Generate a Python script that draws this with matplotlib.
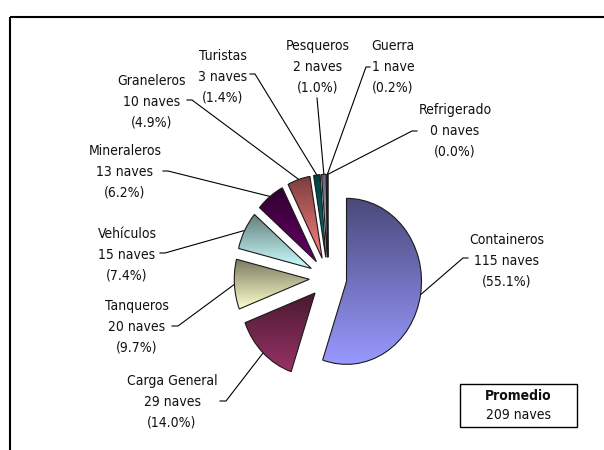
import numpy as np
import matplotlib
matplotlib.use('Agg')
import matplotlib.pyplot as plt
from matplotlib.colors import to_rgb
from matplotlib.patches import Rectangle

# ---- data ----
categories = ['Containeros', 'Carga General', 'Tanqueros', 'Vehículos', 'Mineraleros',
              'Graneleros', 'Turistas', 'Pesqueros', 'Guerra', 'Refrigerado']
naves = [115, 29, 20, 15, 13, 10, 3, 2, 1, 0]
percent = [55.1, 14.0, 9.7, 7.4, 6.2, 4.9, 1.4, 1.0, 0.2, 0.0]
promedio_naves = 209

base_colors = ['#9999FF', '#993366', '#FFFFCC', '#CCFFFF', '#660066',
               '#FF8080', '#008080', '#CCCCFF', '#000080', '#FF00FF']

# ---- layout (pixel positions of label texts and leader ticks) ----
text_pos = [(507, 261), (172, 402), (137, 327), (127, 255), (125, 172),
            (152, 102), (223, 77), (318, 67), (393, 67), (455, 131)]
tick_pos = [(468, 463, 258), (220, 226, 401), (172, 178, 326), (160, 165, 253),
            (163, 168, 171), (187, 192, 100), (250, 255, 74), (317, 317, 98),
            (370, 366, 67), (417, 412, 131)]

FONT = dict(family='DejaVu Sans', fontstretch='condensed')

W, H = 604, 450
fig = plt.figure(figsize=(W / 100, H / 100), dpi=100)
fig.patch.set_facecolor('white')

ov = fig.add_axes([0, 0, 1, 1])
ov.set_xlim(0, W)
ov.set_ylim(H, 0)
ov.axis('off')

# outer chart border (top + left visible)
ov.add_patch(Rectangle((10, 17), 800, 600, fill=False, edgecolor='black', lw=1.5, zorder=1))

# pie axes (elliptical pie)
cx, cy, rx, ry = 328, 278, 75, 83
lim = 1.5
ax = fig.add_axes([(cx - lim * rx) / W, 1 - (cy + lim * ry) / H, 2 * lim * rx / W, 2 * lim * ry / H])
ax.patch.set_alpha(0)

wedges, _ = ax.pie(percent, explode=[0.25] * len(percent), startangle=90, counterclock=False,
                   radius=1, normalize=True,
                   wedgeprops=dict(facecolor='none', edgecolor='#1a1a1a', linewidth=0.8, zorder=3))
ax.set_aspect('auto')
ax.set_xlim(-lim, lim)
ax.set_ylim(-lim, lim)
ax.axis('off')

t = np.linspace(0, 1, 256)[:, None]
for w, c, v in zip(wedges, base_colors, percent):
    if v <= 0:
        continue
    ext = w.get_path().get_extents()
    bot = np.array(to_rgb(c))
    top = bot * 0.48
    grad = (top * (1 - t) + bot * t).reshape(256, 1, 3)
    im = ax.imshow(grad, extent=[ext.x0, ext.x1, ext.y0, ext.y1], origin='upper',
                   aspect='auto', zorder=2, interpolation='bilinear')
    im.set_clip_path(w)
ax.set_aspect('auto')
ax.set_xlim(-lim, lim)
ax.set_ylim(-lim, lim)

to_ov = ov.transData.inverted()
for i, w in enumerate(wedges):
    th = np.deg2rad((w.theta1 + w.theta2) / 2)
    px, py = w.center[0] + w.r * np.cos(th), w.center[1] + w.r * np.sin(th)
    ex, ey = to_ov.transform(ax.transData.transform((px, py)))
    k0, k1, ky = tick_pos[i]
    ov.plot([k0, k1, ex], [ky, ky, ey], color='black', lw=0.8, zorder=4)
    unit = 'nave' if naves[i] == 1 else 'naves'
    lbl = f"{categories[i]}\n{naves[i]} {unit}\n({percent[i]:.1f}%)"
    tx, ty = text_pos[i]
    ov.text(tx, ty, lbl, ha='center', va='center', fontsize=10, linespacing=1.6,
            color='#111111', zorder=5, **FONT)

# Promedio box
ov.add_patch(Rectangle((460, 384), 117, 43, facecolor='white', edgecolor='black', lw=1.0, zorder=4))
ov.text(518, 396, 'Promedio', ha='center', va='center', fontsize=10, fontweight='bold',
        color='#111111', zorder=5, **FONT)
ov.text(518, 415, f'{promedio_naves} naves', ha='center', va='center', fontsize=10,
        color='#111111', zorder=5, **FONT)

fig.savefig('out.png', dpi=100)
